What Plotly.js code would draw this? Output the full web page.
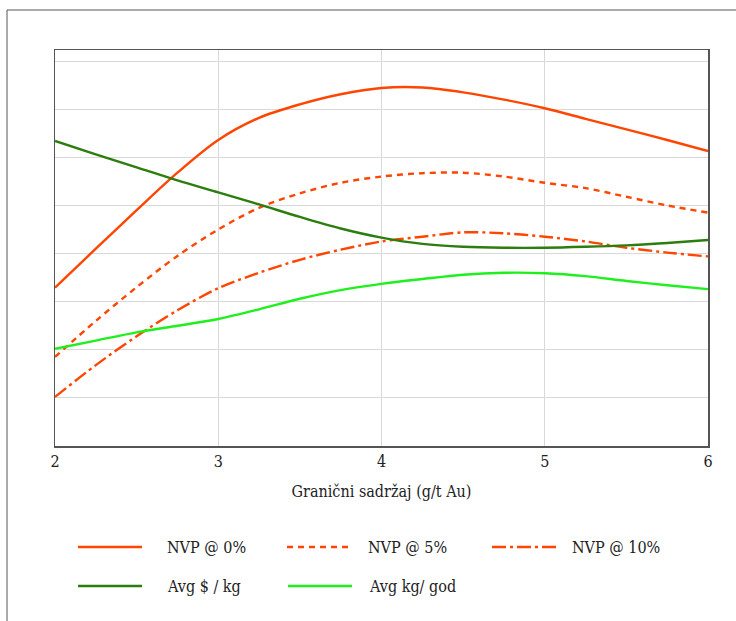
<!DOCTYPE html>
<html><head><meta charset="utf-8">
<script src="https://cdn.plot.ly/plotly-3.0.1.min.js"></script>
<style>html,body{margin:0;padding:0;background:#fff}#chart{width:736px;height:621px}</style>
</head><body><div id="chart"></div>
<script>
const cutoff = [2,2.25,2.5,2.75,3,3.25,3.5,3.75,4,4.25,4.5,4.75,5,5.25,5.5,5.75,6];
const nvp0  = [3.29,4.10,4.90,5.68,6.36,6.82,7.10,7.31,7.44,7.45,7.35,7.20,7.02,6.80,6.58,6.36,6.13];
const nvp5  = [1.85,2.60,3.30,3.95,4.50,4.95,5.25,5.47,5.60,5.67,5.68,5.60,5.47,5.36,5.18,5.00,4.85];
const nvp10 = [1.02,1.68,2.28,2.82,3.28,3.60,3.87,4.08,4.25,4.35,4.44,4.42,4.35,4.25,4.12,4.02,3.94];
const avgUsd = [6.34,6.06,5.79,5.52,5.27,5.02,4.76,4.52,4.33,4.20,4.14,4.12,4.12,4.14,4.17,4.22,4.28];
const avgKg  = [2.02,2.19,2.36,2.50,2.64,2.84,3.06,3.24,3.37,3.47,3.56,3.60,3.59,3.53,3.43,3.34,3.26];
const xTicks = [2,3,4,5,6];
const seriesNames = ["NVP @ 0%","NVP @ 5%","NVP @ 10%","Avg $ / kg","Avg kg/ god"];

const RED = "#FF4500", DKGREEN = "#2B7D0E", LTGREEN = "#1EF01E";
const FONT = "DejaVu Serif Condensed, Liberation Serif, serif";
const styles = [
  {color:RED, dash:"solid"},
  {color:RED, dash:"6px,5px"},
  {color:RED, dash:"14px,4px,3px,4px"},
  {color:DKGREEN, dash:"solid"},
  {color:LTGREEN, dash:"solid"}
];
const ys = [nvp0,nvp5,nvp10,avgUsd,avgKg];
const traces = ys.map((y,i)=>({
  x: cutoff, y: y, type:"scatter", mode:"lines", name: seriesNames[i],
  line:{color:styles[i].color, dash:styles[i].dash, width:2.4, shape:"spline", smoothing:0.9},
  showlegend:false, hoverinfo:"skip"
}));

const W=736,H=621,L=55,R=28,T=50,B=175;
const pw=W-L-R, ph=H-T-B;
const px = v => (v-L)/pw;
const py = v => (H-B-v)/ph;

const shapes = [
  {type:"line", xref:"paper", yref:"paper", x0:px(7), x1:px(740), y0:py(10), y1:py(10), line:{color:"#555", width:1}},
  {type:"line", xref:"paper", yref:"paper", x0:px(7), x1:px(7), y0:py(10), y1:py(625), line:{color:"#555", width:1}}
];
const annotations = [];
const legendPos = [
  {x0:78,x1:142,tx:165,y:547},
  {x0:287,x1:351,tx:366,y:547},
  {x0:492,x1:557,tx:570,y:547},
  {x0:78,x1:142,tx:165,y:586},
  {x0:288,x1:352,tx:367,y:586}
];
legendPos.forEach((p,i)=>{
  shapes.push({type:"line", xref:"paper", yref:"paper", x0:px(p.x0), x1:px(p.x1), y0:py(p.y), y1:py(p.y),
    line:{color:styles[i].color, dash:styles[i].dash, width:2.4}});
  annotations.push({xref:"paper", yref:"paper", x:px(p.tx), y:py(p.y), xanchor:"left", yanchor:"middle",
    text:seriesNames[i], showarrow:false, font:{family:FONT, size:16, color:"#222"}});
});

const layout = {
  width:W, height:H, margin:{l:L,r:R,t:T,b:B},
  paper_bgcolor:"#fff", plot_bgcolor:"#fff",
  xaxis:{range:[2,6], tickvals:xTicks, ticktext:xTicks.map(String), showgrid:true, gridcolor:"#d9d9d9",
    showline:true, mirror:true, linecolor:"#555", linewidth:1.5, zeroline:false, ticks:"",
    tickfont:{family:FONT, size:16, color:"#222"},
    title:{text:"Granični sadržaj (g/t Au)", font:{family:FONT, size:16, color:"#222"}, standoff:16}},
  yaxis:{range:[0,8.23], dtick:1, tick0:0, showticklabels:false, showgrid:true, gridcolor:"#d9d9d9",
    showline:true, mirror:true, linecolor:"#555", linewidth:1.5, zeroline:false, ticks:""},
  shapes:shapes, annotations:annotations, showlegend:false
};
Plotly.newPlot("chart", traces, layout, {displayModeBar:false, staticPlot:true});
</script></body></html>
